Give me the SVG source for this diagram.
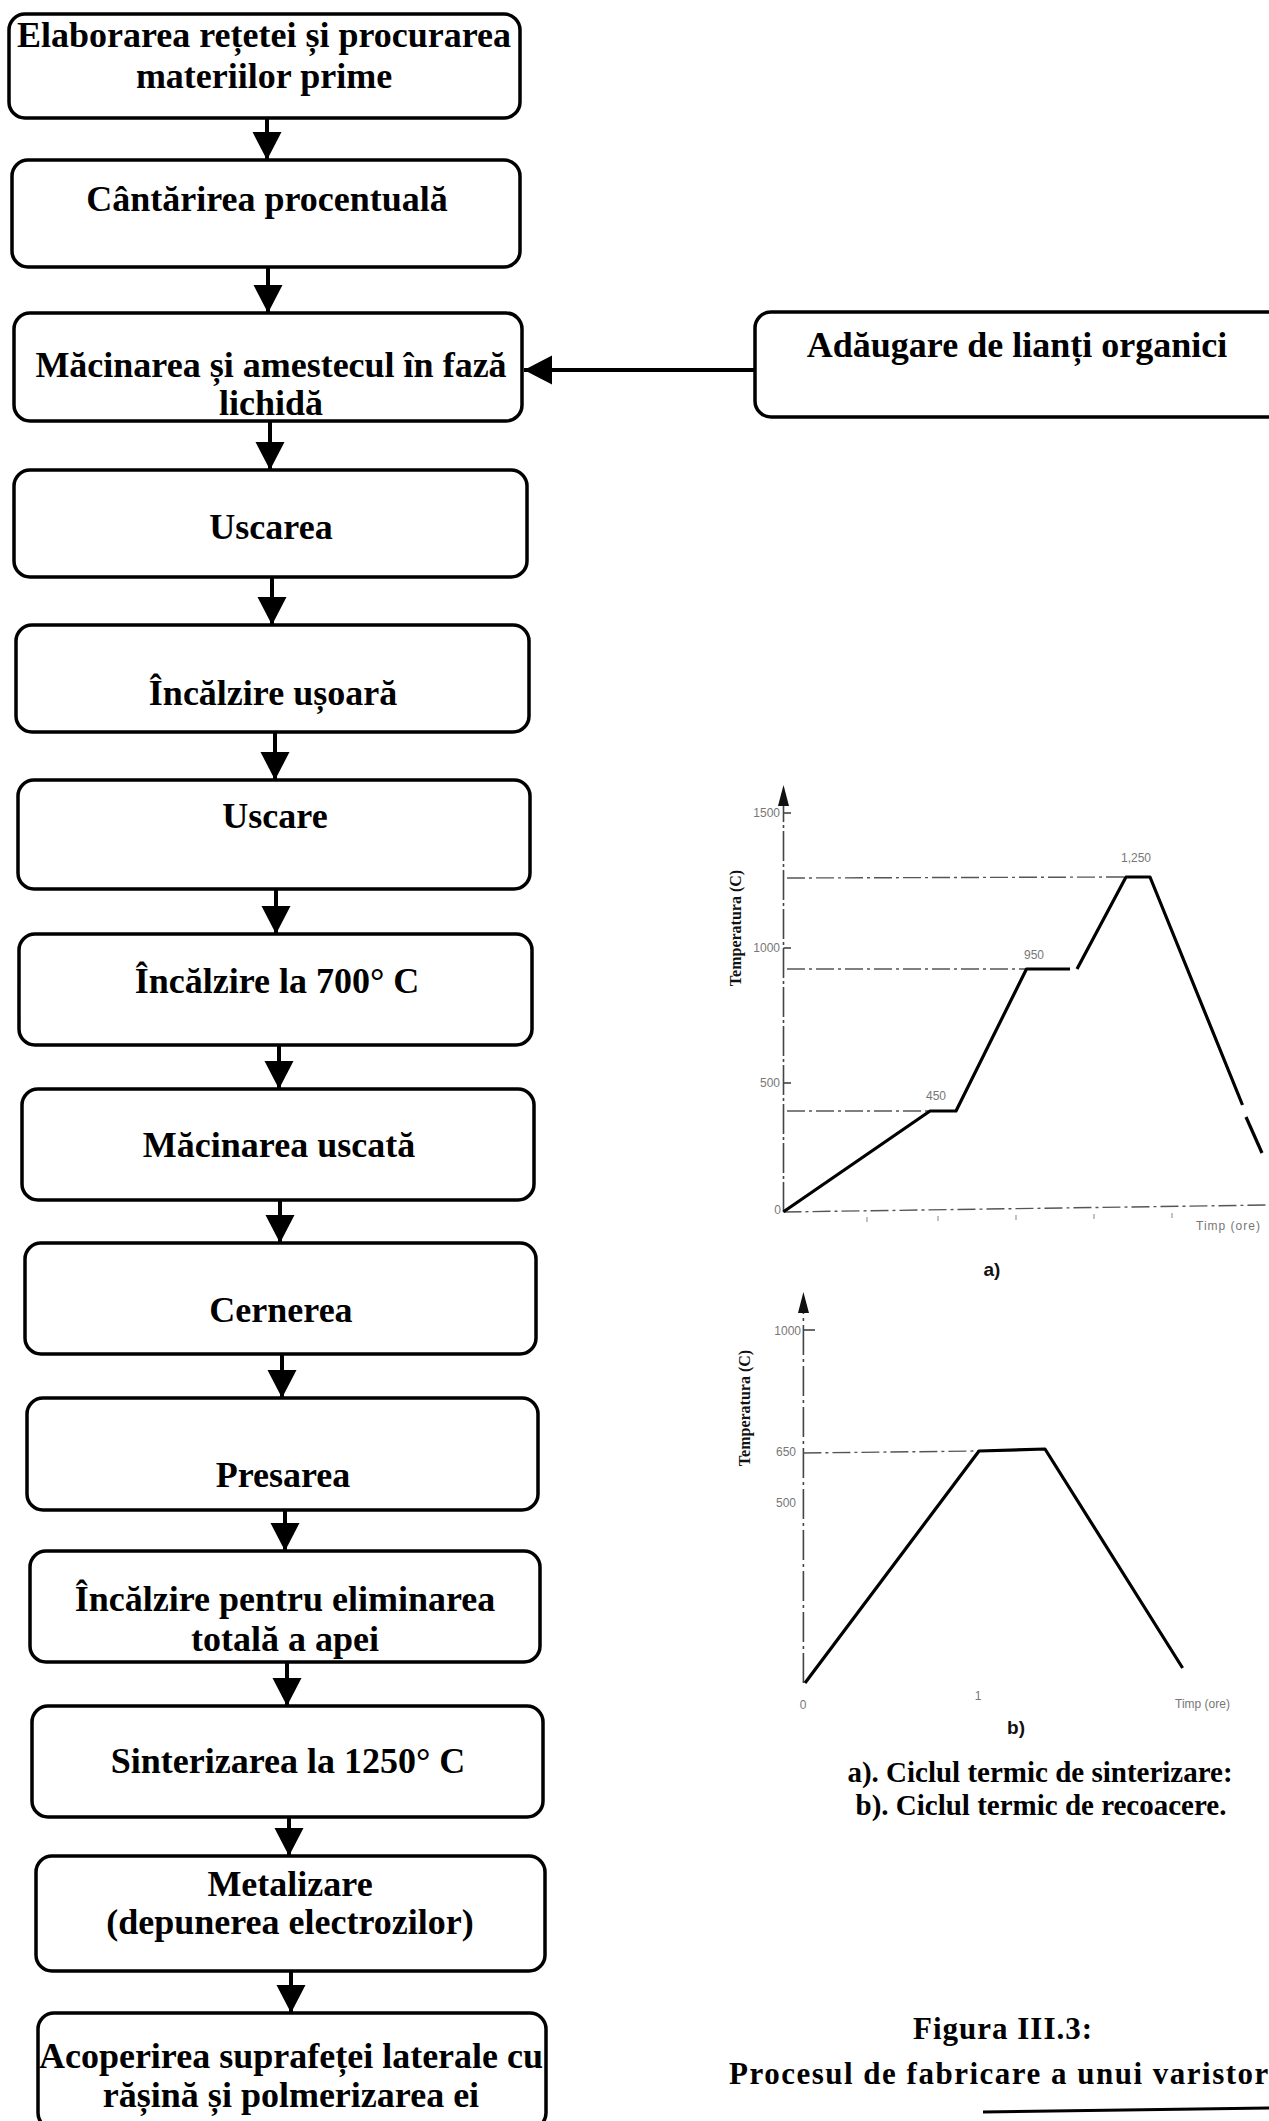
<svg xmlns="http://www.w3.org/2000/svg" width="1269" height="2121" viewBox="0 0 1269 2121">
<style>
.box{fill:#fff;stroke:#000;stroke-width:3.5}
.t{font-family:"Liberation Serif","Times New Roman",serif;font-weight:bold;font-size:36px;text-anchor:middle;fill:#000}
.conn{stroke:#000;stroke-width:4;fill:none;marker-end:url(#ah)}
.ax{stroke:#444;stroke-width:1.6;fill:none}
.dash{stroke:#555;stroke-width:1.4;fill:none;stroke-dasharray:18 4 3 4}
.curve{stroke:#000;stroke-width:3.2;fill:none;stroke-linejoin:round}
.num{font-family:"Liberation Sans",Arial,sans-serif;font-size:12px;fill:#777}
.ylab{font-family:"Liberation Serif","Times New Roman",serif;font-weight:bold;font-size:16px;fill:#111;text-anchor:middle}
.sub{font-family:"Liberation Sans",Arial,sans-serif;font-weight:bold;font-size:19px;fill:#111;text-anchor:middle}
.cap{font-family:"Liberation Serif","Times New Roman",serif;font-weight:bold;font-size:29px;fill:#000;text-anchor:middle}
.fig{font-family:"Liberation Serif","Times New Roman",serif;font-weight:bold;font-size:31px;fill:#000}
</style>
<defs>
<marker id="ah" markerUnits="userSpaceOnUse" markerWidth="30" markerHeight="30" refX="28" refY="14.5" orient="auto">
<path d="M0,0 L28,14.5 L0,29 z" fill="#000"/>
</marker>
</defs>
<rect width="1269" height="2121" fill="#fff"/>

<g id="connectors">
<line class="conn" x1="267" y1="118" x2="267" y2="160"/>
<line class="conn" x1="268" y1="267" x2="268" y2="313"/>
<line class="conn" x1="270" y1="421" x2="270" y2="470"/>
<line class="conn" x1="272" y1="577" x2="272" y2="625"/>
<line class="conn" x1="275" y1="732" x2="275" y2="780"/>
<line class="conn" x1="276" y1="889" x2="276" y2="934"/>
<line class="conn" x1="279" y1="1045" x2="279" y2="1089"/>
<line class="conn" x1="280" y1="1200" x2="280" y2="1243"/>
<line class="conn" x1="282" y1="1354" x2="282" y2="1398"/>
<line class="conn" x1="285" y1="1510" x2="285" y2="1551"/>
<line class="conn" x1="287" y1="1662" x2="287" y2="1706"/>
<line class="conn" x1="289" y1="1817" x2="289" y2="1856"/>
<line class="conn" x1="291" y1="1971" x2="291" y2="2013"/>
<line class="conn" x1="755" y1="370" x2="524" y2="370"/>
</g>

<g id="n1"><rect class="box" x="9" y="14" width="511" height="104" rx="16"/>
<text class="t" x="264" y="47">Elaborarea rețetei și procurarea</text>
<text class="t" x="264" y="88">materiilor prime</text></g>
<g id="n2"><rect class="box" x="12" y="160" width="508" height="107" rx="16"/>
<text class="t" x="267" y="211">Cântărirea procentuală</text></g>
<g id="n3"><rect class="box" x="14" y="313" width="508" height="108" rx="16"/>
<text class="t" x="271" y="377">Măcinarea și amestecul în fază</text>
<text class="t" x="271" y="415">lichidă</text></g>
<g id="n4"><rect class="box" x="14" y="470" width="513" height="107" rx="16"/>
<text class="t" x="271" y="539">Uscarea</text></g>
<g id="n5"><rect class="box" x="16" y="625" width="513" height="107" rx="16"/>
<text class="t" x="273" y="705">Încălzire ușoară</text></g>
<g id="n6"><rect class="box" x="18" y="780" width="512" height="109" rx="16"/>
<text class="t" x="275" y="828">Uscare</text></g>
<g id="n7"><rect class="box" x="19" y="934" width="513" height="111" rx="16"/>
<text class="t" x="277" y="993">Încălzire la 700° C</text></g>
<g id="n8"><rect class="box" x="22" y="1089" width="512" height="111" rx="16"/>
<text class="t" x="279" y="1157">Măcinarea uscată</text></g>
<g id="n9"><rect class="box" x="25" y="1243" width="511" height="111" rx="16"/>
<text class="t" x="281" y="1322">Cernerea</text></g>
<g id="n10"><rect class="box" x="27" y="1398" width="511" height="112" rx="16"/>
<text class="t" x="283" y="1487">Presarea</text></g>
<g id="n11"><rect class="box" x="30" y="1551" width="510" height="111" rx="16"/>
<text class="t" x="285" y="1611">Încălzire pentru eliminarea</text>
<text class="t" x="285" y="1651">totală a apei</text></g>
<g id="n12"><rect class="box" x="32" y="1706" width="511" height="111" rx="16"/>
<text class="t" x="288" y="1773">Sinterizarea la 1250° C</text></g>
<g id="n13"><rect class="box" x="36" y="1856" width="509" height="115" rx="16"/>
<text class="t" x="290" y="1896">Metalizare</text>
<text class="t" x="290" y="1934">(depunerea electrozilor)</text></g>
<g id="n14"><rect class="box" x="38" y="2013" width="508" height="116" rx="16"/>
<text class="t" x="291" y="2068">Acoperirea suprafeței laterale cu</text>
<text class="t" x="291" y="2107">rășină și polmerizarea ei</text></g>
<g id="n15"><rect class="box" x="755" y="312" width="540" height="105" rx="16"/>
<text class="t" x="1017" y="357">Adăugare de lianți organici</text></g>

<g id="chart-a">
<line class="ax" x1="783.5" y1="1212" x2="783.5" y2="800" stroke-dasharray="30 3 3 3"/>
<path d="M783.5,785 L778,806 L789,806 z" fill="#111"/>
<line class="ax" x1="783.5" y1="813" x2="791" y2="813"/>
<line class="ax" x1="783.5" y1="948" x2="791" y2="948"/>
<line class="ax" x1="783.5" y1="1083" x2="791" y2="1083"/>
<text class="num" x="780" y="817" text-anchor="end">1500</text>
<text class="num" x="780" y="952" text-anchor="end">1000</text>
<text class="num" x="780" y="1087" text-anchor="end">500</text>
<text class="num" x="781" y="1214" text-anchor="end">0</text>
<line class="dash" x1="787" y1="878" x2="1126" y2="877"/>
<line class="dash" x1="787" y1="969" x2="1026" y2="969"/>
<line class="dash" x1="787" y1="1111" x2="930" y2="1111"/>
<line class="dash" x1="783.5" y1="1212" x2="1269" y2="1205"/>
<g stroke="#999" stroke-width="1.2">
<line x1="867" y1="1217" x2="867" y2="1222"/><line x1="938" y1="1216" x2="938" y2="1221"/><line x1="1016" y1="1215" x2="1016" y2="1220"/><line x1="1094" y1="1214" x2="1094" y2="1219"/><line x1="1172" y1="1213" x2="1172" y2="1218"/>
</g>
<polyline class="curve" points="783.5,1211.7 930,1111 956,1111 1026.5,969 1070,969"/>
<polyline class="curve" points="1077,969 1126,877 1150,877 1242.5,1105"/>
<polyline class="curve" points="1246,1117 1262,1153"/>
<text class="num" x="936" y="1100" text-anchor="middle">450</text>
<text class="num" x="1034" y="959" text-anchor="middle">950</text>
<text class="num" x="1136" y="862" text-anchor="middle">1,250</text>
<text class="ylab" transform="translate(741,928) rotate(-90)">Temperatura (C)</text>
<text class="num" x="1196" y="1230" font-size="14" letter-spacing="1">Timp (ore)</text>
<text class="sub" x="992" y="1276">a)</text>
</g>

<g id="chart-b">
<line class="ax" x1="803.4" y1="1683" x2="803.4" y2="1310" stroke-dasharray="30 4 3 4"/>
<path d="M803.4,1292 L798,1313 L809,1313 z" fill="#111"/>
<line class="ax" x1="803.4" y1="1330" x2="815" y2="1330"/>
<text class="num" x="801" y="1335" text-anchor="end" font-size="14" fill="#444">1000</text>
<text class="num" x="796" y="1456" text-anchor="end" font-size="13">650</text>
<text class="num" x="796" y="1507" text-anchor="end" font-size="13">500</text>
<line class="dash" x1="803.4" y1="1453" x2="979" y2="1451"/>
<polyline class="curve" points="805,1683 979,1451 1045,1449 1182.6,1668"/>
<text class="num" x="803" y="1709" text-anchor="middle" font-size="16" fill="#333">0</text>
<text class="num" x="978" y="1700" text-anchor="middle" font-size="9">1</text>
<text class="num" x="1175" y="1708" font-size="12">Timp (ore)</text>
<text class="ylab" transform="translate(750,1408) rotate(-90)">Temperatura (C)</text>
<text class="sub" x="1016" y="1734">b)</text>
</g>

<g id="captions">
<text class="cap" x="1040" y="1782">a). Ciclul termic de sinterizare:</text>
<text class="cap" x="1041" y="1815">b). Ciclul termic de recoacere.</text>
<text class="fig" x="1003" y="2039" text-anchor="middle" letter-spacing="1">Figura III.3:</text>
<text class="fig" x="729" y="2084" letter-spacing="1.5">Procesul de fabricare a unui varistor</text>
<line x1="983" y1="2112" x2="1269" y2="2108" stroke="#000" stroke-width="3"/>
</g>
</svg>
